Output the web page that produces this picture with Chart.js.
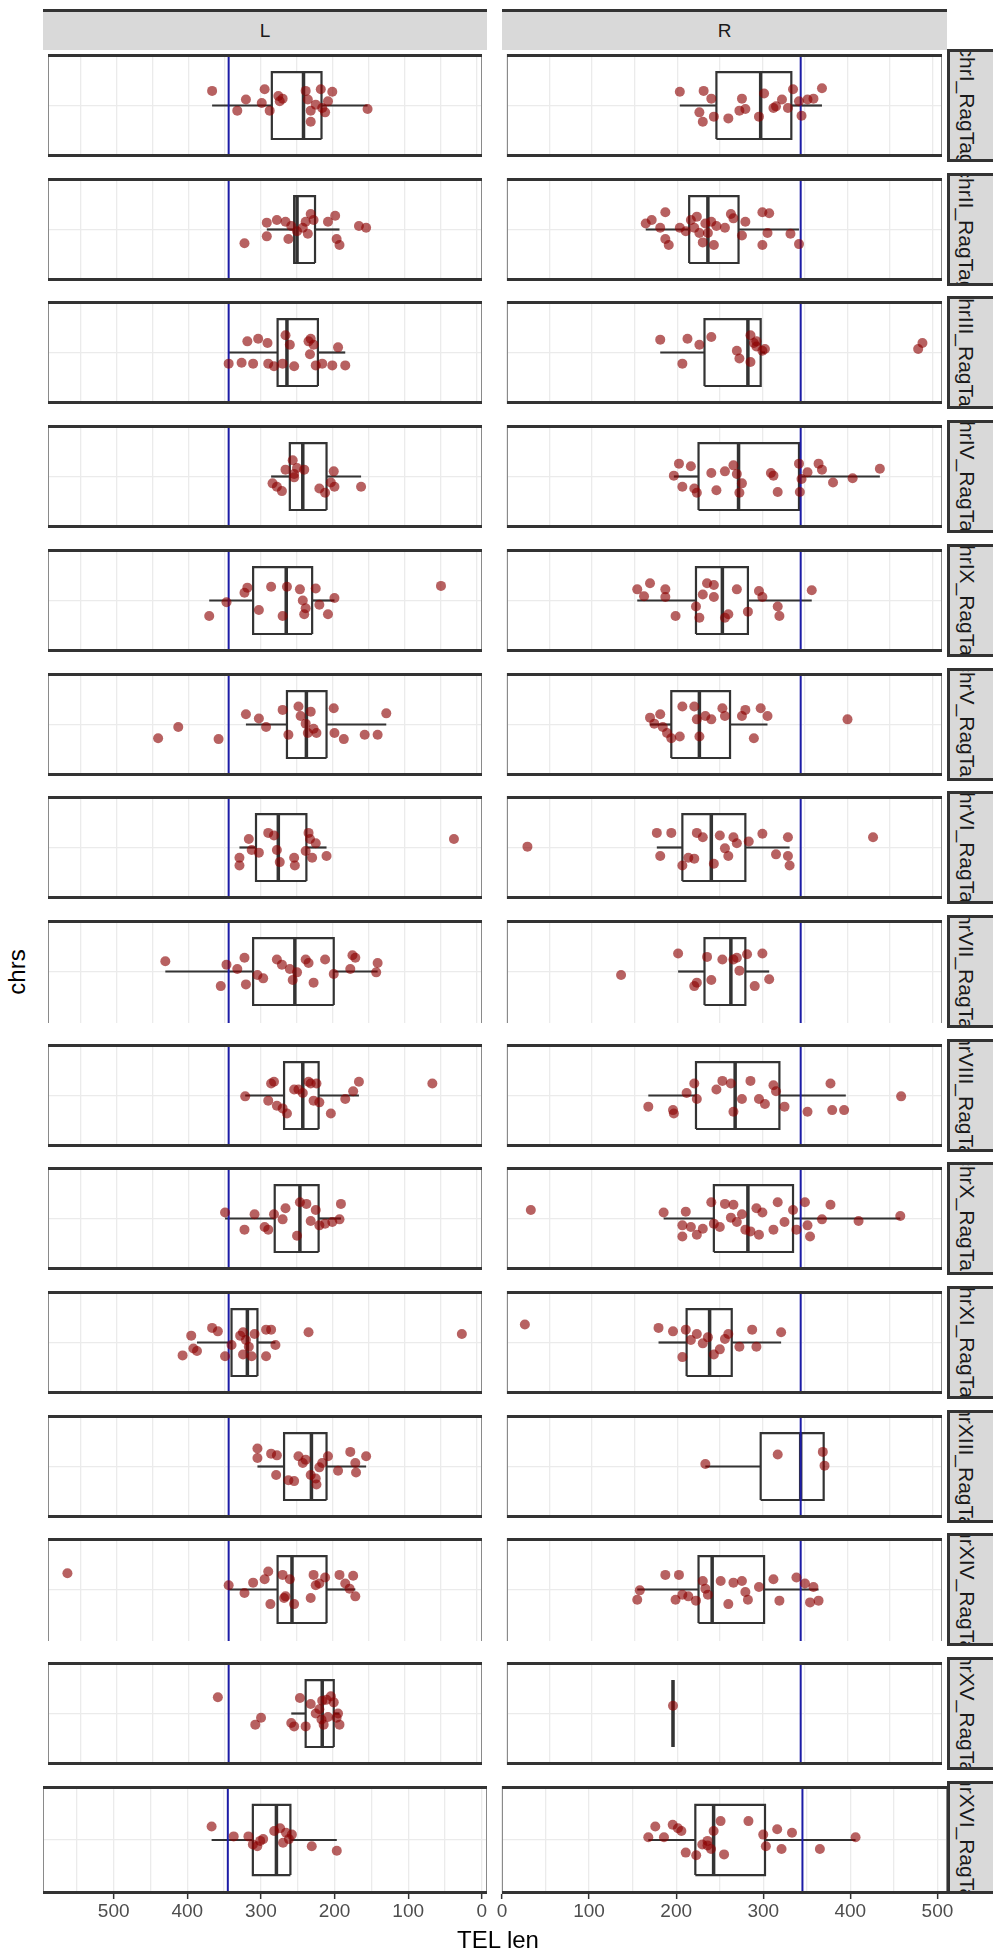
<!DOCTYPE html>
<html>
<head>
<meta charset="utf-8">
<title>TEL len</title>
<script src="https://cdn.jsdelivr.net/npm/chart.js@4.4.1/dist/chart.umd.min.js"></script>
<style>
  body { margin: 0; background: #fff; font-family: "Liberation Sans", Arial, sans-serif; }
  #fig { position: relative; width: 993px; height: 1958px; overflow: hidden; }
  #fig canvas { position: absolute; }
  .strip-top { position: absolute; top: 9px; height: 41px; box-sizing: border-box; border-top: 3px solid #333; background: #d9d9d9; color: #1a1a1a; font-size: 19px; line-height: 38px; text-align: center; }
  .strip-right { position: absolute; left: 947px; width: 46px; box-sizing: border-box; border: 3px solid #333; border-right: none; padding-right: 10px; background: #d9d9d9; overflow: hidden; display: flex; align-items: center; justify-content: center; }
  .strip-right span { transform: rotate(90deg); white-space: nowrap; font-size: 21px; color: #1a1a1a; }
  .title { position: absolute; color: #000; font-size: 24px; white-space: nowrap; transform: translate(-50%, -50%); }
</style>
</head>
<body>
<div id="fig"></div>
<script>
const chrs = ["chrI_RagTag", "chrII_RagTag", "chrIII_RagTag", "chrIV_RagTag", "chrIX_RagTag",
  "chrV_RagTag", "chrVI_RagTag", "chrVII_RagTag", "chrVIII_RagTag", "chrX_RagTag",
  "chrXI_RagTag", "chrXIII_RagTag", "chrXIV_RagTag", "chrXV_RagTag", "chrXVI_RagTag"];
const sides = ["L", "R"];
const cutoff = 345; // blue line

// tick labels and grid breaks (every 50)
const ticksL = [500, 400, 300, 200, 100, 0];
const ticksR = [0, 100, 200, 300, 400, 500];
const gridL = [0, 50, 100, 150, 200, 250, 300, 350, 400, 450, 500, 550];
const gridR = [0, 50, 100, 150, 200, 250, 300, 350, 400, 450, 500];

// boxplot stats, L side (one value per chromosome)
const q1L = [216, 225, 221, 209, 229, 209, 237, 199, 220, 220, 305, 209, 209, 199, 260];
const medL = [241, 250, 264, 242, 265, 237, 276, 253, 242, 246, 319, 230, 257, 215, 279];
const q3L = [285, 254, 277, 260, 311, 264, 307, 311, 268, 281, 341, 268, 277, 238, 311];
const loL = [152, 191, 183, 161, 198, 126, 209, 138, 164, 189, 280, 154, 169, 191, 197];
const hiL = [368, 292, 345, 286, 372, 321, 330, 433, 322, 350, 389, 305, 345, 258, 367];

// boxplot stats, R side
const q1R = [246, 214, 232, 225, 222, 193, 206, 232, 222, 243, 211, 298, 225, 195, 222];
const medR = [298, 236, 283, 272, 253, 226, 240, 263, 268, 283, 238, 345, 241, 195, 243];
const q3R = [334, 272, 298, 343, 283, 262, 280, 280, 320, 336, 264, 372, 302, 195, 302];
const loR = [203, 163, 180, 196, 153, 168, 176, 201, 166, 184, 178, 233, 153, 195, 168];
const hiR = [370, 343, 303, 438, 358, 306, 332, 308, 398, 462, 322, 373, 366, 195, 406];

// jittered points: [TEL len, vertical jitter]
const jitterL = [
  [[368,0.17],[321,0.07],[333,-0.06],[299,0.03],[295,0.19],[288,-0.06],[276,0.11],[270,0.08],[274,0.05],[235,0.07],[217,0.19],[201,0.16],[231,-0.06],[224,0.01],[215,-0.03],[231,-0.19],[207,0.05],[152,-0.04],[238,0.17],[211,-0.08]],
  [[323,-0.16],[292,0.08],[292,-0.08],[278,0.11],[266,0.09],[258,0.04],[250,-0.02],[242,0.02],[235,-0.05],[231,0.18],[227,0.11],[207,0.09],[197,0.16],[195,-0.11],[191,-0.18],[164,0.04],[154,0.02],[262,-0.11],[238,0.09]],
  [[345,-0.13],[327,-0.12],[311,-0.13],[319,0.13],[304,0.16],[291,0.11],[290,-0.13],[282,-0.16],[270,-0.13],[266,0.2],[254,-0.16],[234,0.13],[232,-0.02],[231,0.16],[227,0.09],[224,-0.15],[215,-0.13],[201,-0.15],[193,0.06],[183,-0.15],[260,0.09]],
  [[284,-0.08],[278,-0.12],[271,-0.17],[266,0.08],[256,0.19],[254,-0.01],[250,0.1],[240,0.08],[219,-0.14],[211,-0.19],[203,-0.07],[199,0.06],[198,-0.12],[161,-0.12],[254,0.03]],
  [[372,-0.18],[348,-0.02],[323,0.09],[319,0.15],[303,-0.11],[286,0.16],[270,-0.18],[264,0.16],[246,0.13],[242,0],[240,-0.16],[238,-0.09],[224,0.14],[219,-0.05],[207,-0.16],[198,0.03],[50,0.17]],
  [[443,-0.16],[415,-0.03],[359,-0.17],[321,0.12],[303,0.07],[293,-0.03],[270,0.17],[262,-0.12],[248,0.21],[245,0.1],[235,-0.1],[231,0.15],[227,-0.05],[223,-0.1],[199,0.19],[198,-0.1],[185,-0.17],[156,-0.12],[138,-0.12],[126,0.13],[238,0.01]],
  [[330,-0.12],[330,-0.21],[317,0.1],[313,-0.03],[303,-0.06],[290,0.17],[282,0.14],[278,-0.03],[274,-0.17],[254,-0.12],[253,-0.21],[238,-0.04],[234,0.17],[232,0.1],[224,0.05],[229,-0.12],[209,-0.1],[32,0.1]],
  [[433,0.12],[356,-0.17],[348,0.08],[333,0.03],[323,0.16],[321,-0.15],[305,-0.04],[297,-0.08],[278,0.14],[271,0.08],[260,0.03],[256,-0.1],[250,-0.01],[238,0.14],[234,0.1],[227,-0.13],[211,0.14],[199,-0.03],[176,0.03],[173,0.19],[169,0.16],[140,-0.01],[138,0.1]],
  [[322,-0.01],[290,-0.06],[286,0.14],[282,0.16],[278,-0.12],[270,-0.15],[264,-0.21],[254,0.07],[248,0.07],[242,0.03],[234,0.16],[231,0.14],[227,-0.06],[223,0.14],[219,-0.08],[203,-0.21],[183,-0.04],[172,0.05],[164,0.16],[62,0.14]],
  [[350,0.07],[323,-0.13],[309,0.05],[295,-0.1],[290,-0.13],[282,0.05],[270,-0.01],[266,0.12],[250,-0.2],[246,0.19],[237,0.17],[231,-0.03],[224,0.1],[219,-0.08],[211,-0.06],[201,-0.04],[191,-0.01],[189,0.17]],
  [[409,-0.15],[397,0.08],[394,-0.07],[389,-0.1],[368,0.17],[360,0.13],[350,-0.16],[341,-0.03],[329,0.08],[325,0.12],[321,0.03],[317,-0.05],[313,-0.16],[309,0.1],[293,0.15],[293,-0.16],[286,0.15],[280,-0.03],[234,0.12],[21,0.1],[325,-0.14]],
  [[305,0.21],[305,0.1],[286,0.15],[278,0.13],[279,-0.1],[262,-0.16],[254,-0.17],[248,0.12],[242,0.04],[238,0.08],[231,-0.1],[224,-0.14],[219,-0.01],[215,0.04],[207,0.12],[193,-0.05],[176,0.17],[169,0.04],[168,-0.07],[154,0.12],[223,-0.21]],
  [[569,0.19],[345,0.05],[323,-0.04],[311,0.08],[295,0.12],[290,0.21],[287,-0.17],[270,0.17],[268,-0.1],[260,0.12],[254,-0.17],[231,-0.1],[227,0.17],[224,0.05],[219,0.07],[211,0.14],[191,0.17],[183,0.07],[177,0.01],[172,0.16],[169,-0.08],[266,-0.08]],
  [[360,0.19],[308,-0.13],[300,-0.05],[258,-0.11],[254,-0.15],[246,0.18],[238,-0.15],[231,0.11],[224,0],[219,0.05],[215,0.15],[213,-0.13],[207,-0.04],[203,0.2],[199,0.13],[195,-0.05],[193,0],[191,-0.13],[209,0.16],[216,-0.07]],
  [[367,0.15],[337,0.04],[317,0.04],[311,-0.05],[305,-0.07],[301,-0.01],[297,0.01],[282,0.1],[274,0.13],[266,0.08],[262,0.01],[258,0.06],[231,-0.07],[197,-0.12],[270,-0.03]]
];

const jitterR = [
  [[203,0.16],[231,0.17],[240,0.08],[226,-0.08],[230,-0.19],[243,-0.13],[260,-0.15],[276,0.08],[273,-0.06],[280,-0.04],[296,-0.13],[302,0.14],[316,-0.01],[323,0.07],[313,-0.03],[336,0.19],[343,0.05],[353,0.07],[360,0.08],[370,0.2],[346,-0.12],[330,-0.03]],
  [[163,0.07],[170,0.11],[186,0.2],[180,0.02],[186,-0.11],[190,-0.18],[203,0.02],[210,-0.02],[216,0.11],[223,0.15],[226,-0.04],[230,-0.15],[233,0.07],[240,0.09],[243,-0.18],[246,0.04],[256,0.02],[263,0.18],[266,0.13],[276,-0.07],[280,0.09],[300,0.2],[308,0.19],[306,-0.04],[300,-0.18],[333,-0.05],[343,-0.17],[220,0.02],[236,-0.04]],
  [[180,0.15],[212,0.16],[226,0.09],[240,0.18],[206,-0.13],[270,0.02],[273,-0.07],[286,0.2],[290,0.11],[293,0.07],[300,0.02],[303,0.04],[286,-0.11],[293,0.13],[483,0.04],[488,0.11]],
  [[196,0.01],[202,0.15],[206,-0.12],[216,0.12],[220,-0.14],[223,-0.19],[240,0.04],[246,-0.16],[256,0.06],[266,0.13],[270,0.03],[273,-0.19],[276,-0.08],[310,0.04],[313,0.01],[318,-0.18],[343,0.15],[346,-0.03],[344,-0.18],[353,0.05],[366,0.15],[370,0.08],[383,-0.07],[406,-0.02],[438,0.09]],
  [[153,0.13],[161,0.05],[168,0.2],[186,0.13],[186,0.04],[198,-0.18],[222,-0.07],[226,-0.2],[230,0.07],[235,0.2],[243,0.18],[243,0.04],[260,-0.16],[256,-0.2],[270,0.13],[283,-0.13],[296,0.11],[300,0.04],[318,-0.07],[320,-0.18],[358,0.12]],
  [[168,0.08],[173,0.01],[180,0.12],[183,-0.03],[188,-0.1],[193,-0.16],[203,-0.14],[206,0.21],[220,0.21],[223,0.06],[226,-0.14],[233,0.1],[240,0.06],[253,0.19],[256,0.1],[276,0.1],[280,0.17],[290,-0.16],[298,0.19],[306,0.1],[400,0.06]],
  [[24,0.01],[176,0.17],[180,-0.1],[193,0.17],[206,-0.21],[213,-0.12],[220,-0.13],[223,0.17],[230,0.12],[243,-0.19],[250,0.14],[256,-0.01],[260,-0.1],[266,0.12],[270,0.05],[284,0.07],[300,0.16],[316,-0.08],[330,0.12],[332,-0.21],[330,-0.1],[430,0.12]],
  [[134,-0.04],[201,0.21],[220,-0.17],[223,-0.13],[235,0.17],[240,-0.1],[253,0.14],[266,0.14],[270,0.16],[273,0.01],[282,0.2],[291,-0.17],[300,0.21],[308,-0.09]],
  [[166,-0.13],[195,-0.17],[196,-0.21],[211,0.03],[220,0.14],[223,-0.04],[246,0.07],[253,0.17],[263,0.14],[266,-0.19],[276,-0.04],[286,0.17],[296,-0.04],[303,-0.1],[313,0.12],[316,0.05],[326,-0.13],[353,-0.19],[380,0.14],[382,-0.17],[396,-0.17],[463,-0.01]],
  [[28,0.1],[184,0.07],[210,0.08],[206,-0.08],[206,-0.21],[216,-0.1],[223,-0.19],[230,-0.12],[240,0.19],[243,-0.06],[250,-0.1],[256,0.17],[263,0.01],[266,0.16],[270,-0.04],[276,0.05],[280,-0.13],[286,-0.15],[293,0.12],[296,-0.19],[300,0.07],[313,-0.13],[318,0.19],[326,-0.04],[336,0.1],[340,-0.13],[350,0.19],[353,-0.08],[356,-0.21],[370,-0.01],[380,0.16],[413,-0.03],[462,0.03]],
  [[21,0.21],[178,0.17],[195,0.13],[206,-0.17],[210,0.15],[216,0.03],[223,0.1],[230,-0.01],[236,0.06],[243,-0.14],[250,-0.08],[256,0.04],[260,0.1],[273,-0.05],[288,0.15],[293,-0.05],[322,0.12]],
  [[233,0.03],[318,0.14],[371,0.17],[373,0.01]],
  [[153,-0.12],[156,-0.01],[186,0.17],[202,0.17],[198,-0.12],[206,-0.06],[213,-0.08],[222,-0.13],[230,0.1],[233,0.01],[236,-0.06],[260,-0.17],[266,0.08],[276,0.1],[280,-0.03],[283,-0.12],[296,0.03],[313,0.12],[320,-0.13],[340,0.14],[350,0.07],[360,0.03],[356,-0.15],[366,-0.13],[251,0.1]],
  [[195,0.09]],
  [[168,0.03],[176,0.15],[186,0.03],[196,0.17],[202,0.13],[206,0.1],[211,-0.14],[223,-0.17],[230,-0.05],[236,-0.01],[236,-0.06],[240,-0.1],[243,0.1],[251,0.21],[255,-0.16],[283,0.21],[300,0.06],[303,-0.07],[316,0.12],[321,-0.1],[333,0.08],[365,-0.1],[406,0.03]]
];

const stats = {
  L: { q1: q1L, med: medL, q3: q3L, lo: loL, hi: hiL, pts: jitterL, ticks: ticksL, grid: gridL },
  R: { q1: q1R, med: medR, q3: q3R, lo: loR, hi: hiR, pts: jitterR, ticks: ticksR, grid: gridR },
};

// layout of the facet grid (pixels)
const colLeft = { L: 43, R: 502 };
const colWidth = { L: 444, R: 445 };
const xRange = { L: [-7, 596], R: [0, 511] };
const firstTop = 49;
const rowStep = 123.7;
const panelH = 113;
const boxHalf = 0.39;
const noBottomRule = [7, 12]; // these two panels have no lower rule in the original

const fig = document.getElementById("fig");
const fontFamily = '"Liberation Sans", Arial, sans-serif';

// thick rules on top/bottom, thin sides
const panelBorder = {
  id: "panelBorder",
  afterDraw(chart, args, opts) {
    const { ctx, chartArea: a } = chart;
    ctx.save();
    ctx.strokeStyle = "#8a8a8a";
    ctx.lineWidth = 1;
    ctx.beginPath();
    ctx.moveTo(a.left + 0.5, a.top);
    ctx.lineTo(a.left + 0.5, a.bottom);
    ctx.moveTo(a.right - 0.5, a.top);
    ctx.lineTo(a.right - 0.5, a.bottom);
    ctx.stroke();
    ctx.strokeStyle = "#333";
    ctx.lineWidth = 3;
    ctx.beginPath();
    ctx.moveTo(a.left, a.top + 1.5);
    ctx.lineTo(a.right, a.top + 1.5);
    if (opts.bottomRule) {
      ctx.moveTo(a.left, a.bottom - 1.5);
      ctx.lineTo(a.right, a.bottom - 1.5);
    }
    ctx.stroke();
    ctx.restore();
  },
};

// strips on top
sides.forEach((side) => {
  const d = document.createElement("div");
  d.className = "strip-top";
  d.style.left = colLeft[side] + "px";
  d.style.width = colWidth[side] + "px";
  d.textContent = side;
  fig.appendChild(d);
});

function line(points, color, width) {
  return {
    data: points,
    showLine: true,
    borderColor: color,
    borderWidth: width,
    pointRadius: 0,
    fill: false,
  };
}

chrs.forEach((chr, i) => {
  const top = Math.round(firstTop + rowStep * i);
  const last = i === chrs.length - 1;

  sides.forEach((side) => {
    const s = stats[side];
    const canvas = document.createElement("canvas");
    const extra = last ? 20 : 0;
    canvas.width = colWidth[side] + extra * 2;
    canvas.height = panelH + (last ? 40 : 0);
    canvas.style.left = colLeft[side] - extra + "px";
    canvas.style.top = top + "px";
    fig.appendChild(canvas);

    const q1 = s.q1[i], q3 = s.q3[i], med = s.med[i];

    const boxDs = line(
      [{ x: q1, y: -boxHalf }, { x: q3, y: -boxHalf }, { x: q3, y: boxHalf }, { x: q1, y: boxHalf }, { x: q1, y: -boxHalf }],
      "#333", 2.2);
    boxDs.fill = "shape";
    boxDs.backgroundColor = "#ffffff";

    new Chart(canvas, {
      type: "scatter",
      data: {
        datasets: [
          {
            data: s.pts[i].map((p) => ({ x: p[0], y: p[1] })),
            pointRadius: 5,
            pointBackgroundColor: "rgba(139, 0, 0, 0.62)",
            pointBorderWidth: 0,
          },
          line([{ x: cutoff, y: -0.6 }, { x: cutoff, y: 0.6 }], "#1c1ca6", 2),
          line([{ x: med, y: -boxHalf }, { x: med, y: boxHalf }], "#333", 3.5),
          line([{ x: s.lo[i], y: 0 }, { x: q1, y: 0 }], "#333", 2.2),
          line([{ x: q3, y: 0 }, { x: s.hi[i], y: 0 }], "#333", 2.2),
          boxDs,
        ],
      },
      options: {
        responsive: false,
        animation: false,
        events: [],
        layout: { padding: last ? { left: extra, right: extra, top: 0, bottom: 0 } : 0 },
        plugins: {
          legend: { display: false },
          tooltip: { enabled: false },
          panelBorder: { bottomRule: !noBottomRule.includes(i) },
        },
        scales: {
          x: {
            type: "linear",
            min: xRange[side][0],
            max: xRange[side][1],
            reverse: side === "L",
            afterBuildTicks: (scale) => {
              scale.ticks = s.grid.map((v) => ({ value: v }));
            },
            afterFit: (scale) => {
              scale.paddingLeft = 0;
              scale.paddingRight = 0;
              scale.height = last ? 40 : 0;
            },
            border: { display: false },
            grid: {
              color: "#ebebeb",
              lineWidth: 1.3,
              drawTicks: last,
              tickLength: 5,
              tickWidth: 1.5,
              tickColor: (ctx) => (ctx.tick && s.ticks.includes(ctx.tick.value) ? "#333" : "rgba(0,0,0,0)"),
            },
            ticks: {
              display: last,
              autoSkip: false,
              maxRotation: 0,
              padding: 1,
              color: "#4d4d4d",
              font: { size: 19, family: fontFamily },
              callback: (v) => (s.ticks.includes(v) ? String(v) : ""),
            },
          },
          y: {
            type: "linear",
            min: -0.6,
            max: 0.6,
            afterBuildTicks: (scale) => {
              scale.ticks = [{ value: 0 }];
            },
            border: { display: false },
            grid: { color: "#ebebeb", lineWidth: 1.3, drawTicks: false },
            ticks: { display: false },
          },
        },
      },
      plugins: [panelBorder],
    });
  });

  // strip on the right
  const strip = document.createElement("div");
  strip.className = "strip-right";
  strip.style.top = top + "px";
  strip.style.height = panelH + "px";
  const span = document.createElement("span");
  span.textContent = chr;
  strip.appendChild(span);
  fig.appendChild(strip);
});

// axis titles
const xTitle = document.createElement("div");
xTitle.className = "title";
xTitle.style.left = "498px";
xTitle.style.top = "1940px";
xTitle.textContent = "TEL len";
fig.appendChild(xTitle);

const yTitle = document.createElement("div");
yTitle.className = "title";
yTitle.style.left = "17px";
yTitle.style.top = "972px";
yTitle.style.transform = "translate(-50%, -50%) rotate(-90deg)";
yTitle.textContent = "chrs";
fig.appendChild(yTitle);
</script>
</body>
</html>
